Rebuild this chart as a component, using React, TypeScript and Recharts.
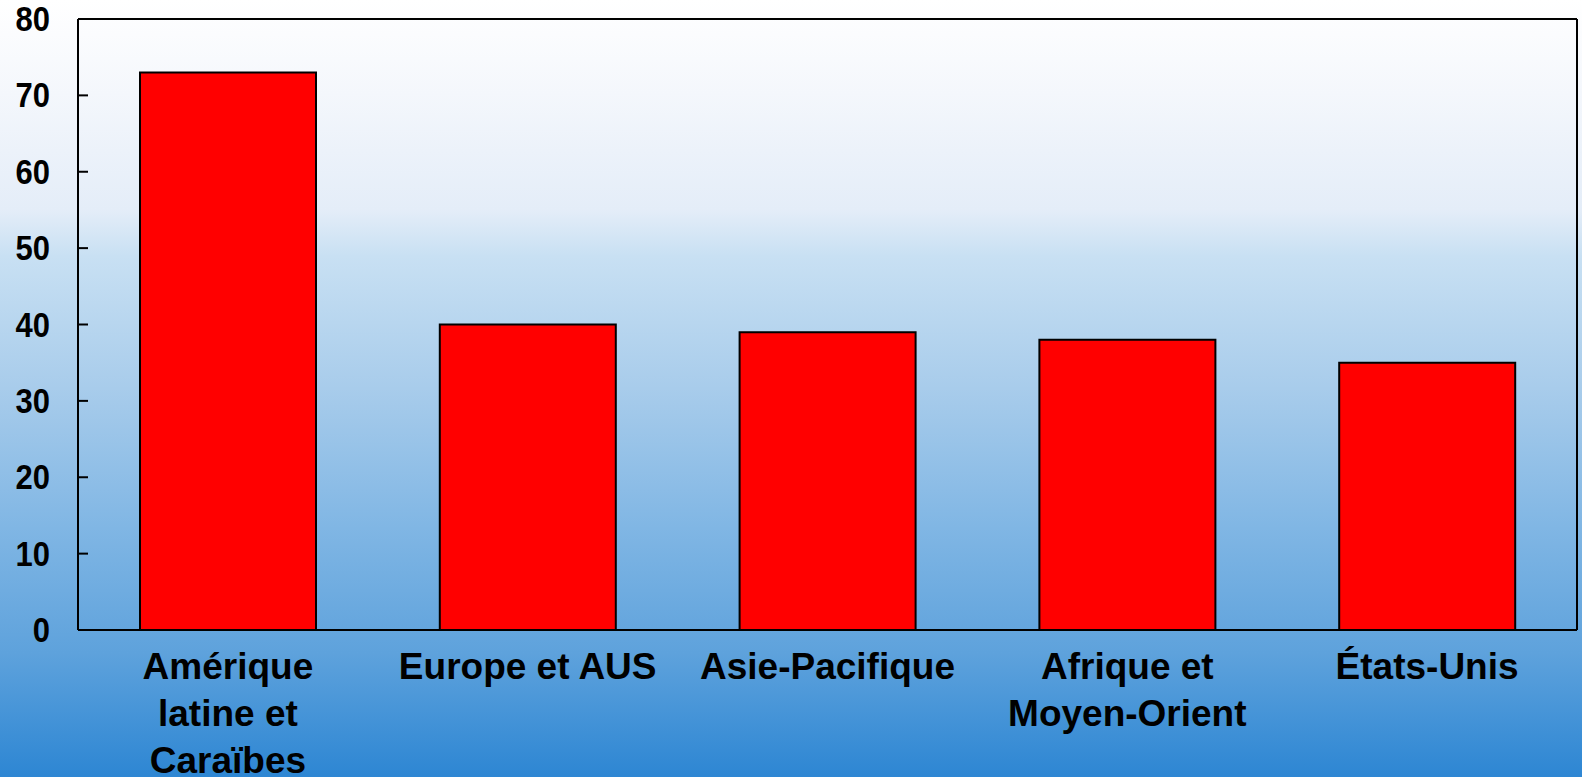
import React from 'react'
import { BarChart, Bar, XAxis, YAxis } from 'recharts'

const regions = [
  'Amérique\nlatine et\nCaraïbes',
  'Europe et AUS',
  'Asie-Pacifique',
  'Afrique et\nMoyen-Orient',
  'États-Unis',
]
const values = [73, 40, 39, 38, 35]
const yTicks = [0, 10, 20, 30, 40, 50, 60, 70, 80]

const data = regions.map((r, i) => ({ name: r, value: values[i] }))

const FONT = '"Liberation Sans", Arial, sans-serif'

function CategoryTick(props: any) {
  const { x, y, payload } = props
  const lines = String(payload.value).split('\n')
  return (
    <text x={x} y={y} textAnchor="middle" fill="#000" fontFamily={FONT} fontWeight="bold" fontSize={37}>
      {lines.map((l, i) => (
        <tspan key={i} x={x} dy={i === 0 ? 41 : 47}>{l}</tspan>
      ))}
    </text>
  )
}

// value tick: short inner tick mark + label left of the axis
function ValueTick(props: any) {
  const { x, y, payload } = props
  return (
    <g>
      <line x1={x} x2={x + 10} y1={y} y2={y} stroke="#000" strokeWidth={2} />
      <text
        x={x - 28}
        y={y}
        textAnchor="end"
        dominantBaseline="central"
        fill="#000"
        fontFamily={FONT}
        fontWeight="bold"
        fontSize={31}
        transform={`translate(0 ${y}) scale(1 1.12) translate(0 ${-y})`}
      >
        {payload.value}
      </text>
    </g>
  )
}

export default function App() {
  return (
    <div
      style={{
        position: 'fixed',
        left: 0,
        top: 0,
        width: 1582,
        height: 777,
        background:
          'linear-gradient(to bottom, #ffffff 0%, #f4f7fc 12%, #e4edf8 27%, #c8e0f3 33%, #a8cceb 50%, #80b6e4 68%, #5ea2dc 84%, #2d86d3 100%)',
      }}
    >
      <BarChart width={1582} height={777} data={data} margin={{ top: 18, right: 4, left: 0, bottom: 0 }}>
        <XAxis
          dataKey="name"
          height={147}
          interval={0}
          tickLine={false}
          axisLine={{ stroke: '#000', strokeWidth: 2 }}
          tick={<CategoryTick />}
        />
        <XAxis xAxisId="top" orientation="top" dataKey="name" height={1} tick={false} tickLine={false} axisLine={{ stroke: '#000', strokeWidth: 2 }} />
        <YAxis
          width={78}
          domain={[0, 80]}
          ticks={yTicks}
          interval={0}
          tickSize={0}
          tickMargin={0}
          tickLine={false}
          axisLine={{ stroke: '#000', strokeWidth: 2 }}
          tick={<ValueTick />}
        />
        <YAxis yAxisId="right" orientation="right" width={1} domain={[0, 80]} tick={false} tickLine={false} axisLine={{ stroke: '#000', strokeWidth: 2 }} />
        <Bar dataKey="value" fill="#ff0000" stroke="#000" strokeWidth={2} barSize={176} isAnimationActive={false} />
      </BarChart>
    </div>
  )
}
